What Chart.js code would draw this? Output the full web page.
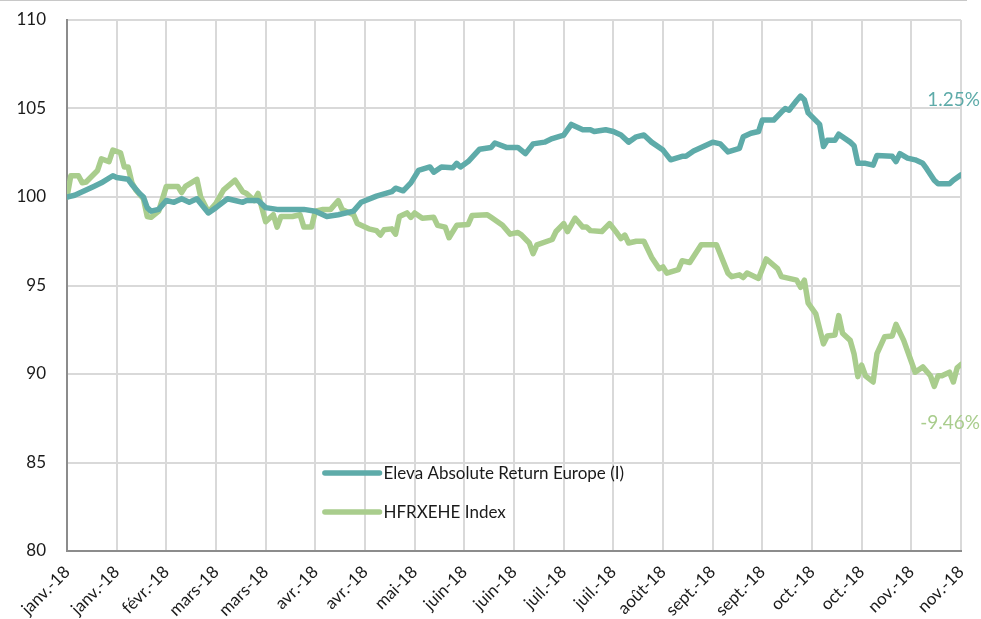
<!DOCTYPE html>
<html>
<head>
<meta charset="utf-8">
<script src="https://cdn.jsdelivr.net/npm/chart.js@4.4.0/dist/chart.umd.min.js"></script>
<style>
  html, body { margin: 0; padding: 0; background: #fff; }
  #wrap { position: relative; width: 981px; height: 619px; }
  #topline { position: absolute; left: 0; top: 0; width: 967px; height: 1px; background: #c8c8c8; }
</style>
</head>
<body>
<div id="wrap">
  <canvas id="c" width="981" height="619"></canvas>
  <div id="topline"></div>
</div>
<script>
// ---- data ----
const tickLabels = ['janv.-18','janv.-18','févr.-18','mars-18','mars-18','avr.-18','avr.-18','mai-18','juin-18','juin-18','juil.-18','juil.-18','août-18','sept.-18','sept.-18','oct.-18','oct.-18','nov.-18','nov.-18'];
const daysPerTick = 13;
const seriesNames = ['Eleva Absolute Return Europe (I)', 'HFRXEHE Index'];
const endLabels = ['1.25%', '-9.46%'];

const elevaDays = [0,2,4,7,9,12,13,16,17,19,20,21,22,24,26,28,30,32,34,37,39,42,44,46,47,50,52,55,58,62,65,68,71,75,77,81,85,86,88,90,92,95,96,98,101,102,103,105,108,111,112,115,118,120,122,125,127,130,132,135,137,138,141,143,145,147,149,151,153,156,158,161,162,164,166,169,171,173,176,177,179,181,182,185,187,188,189,191,192,193,194,197,198,199,201,202,205,206,207,209,211,212,216,217,218,220,222,224,225,227,228,231,232,234];
const elevaValues = [100.0,100.1,100.3,100.6,100.8,101.2,101.1,101.0,100.7,100.2,100.0,99.4,99.2,99.3,99.8,99.7,99.9,99.7,99.9,99.1,99.4,99.9,99.8,99.7,99.8,99.8,99.4,99.3,99.3,99.3,99.2,98.9,99.0,99.2,99.7,100.05,100.3,100.5,100.35,100.8,101.5,101.7,101.4,101.7,101.65,101.9,101.7,102.0,102.7,102.8,103.05,102.8,102.8,102.45,103.0,103.1,103.3,103.5,104.1,103.8,103.8,103.7,103.8,103.7,103.5,103.1,103.4,103.5,103.1,102.65,102.1,102.3,102.3,102.6,102.8,103.1,103.0,102.55,102.75,103.4,103.6,103.7,104.35,104.35,104.8,105.0,104.9,105.45,105.7,105.5,104.75,104.1,102.85,103.2,103.2,103.55,103.1,102.9,101.9,101.9,101.8,102.35,102.3,102.0,102.45,102.2,102.1,101.9,101.6,100.95,100.75,100.75,100.95,101.25];

const hfrxDays = [0,1,3,4,5,8,9,11,12,14,15,16,17,18,20,21,22,24,26,29,30,31,34,35,37,39,41,44,46,47,49,50,52,54,55,56,59,61,62,64,65,67,69,71,72,75,76,79,81,82,83,85,86,87,89,90,91,93,96,97,99,100,102,105,106,110,111,114,116,118,119,121,122,123,127,128,130,131,133,135,136,137,140,142,144,145,146,147,149,151,153,155,156,157,160,161,163,166,170,173,174,176,177,178,181,183,186,187,191,192,193,194,196,198,199,201,202,203,205,206,207,208,209,211,212,214,216,217,219,222,224,226,227,228,229,231,232,233,234];
const hfrxValues = [100.0,101.2,101.2,100.8,100.85,101.5,102.15,102.0,102.65,102.5,101.7,101.7,100.8,100.4,99.9,98.9,98.85,99.2,100.6,100.6,100.25,100.6,101.0,100.0,99.15,99.65,100.4,100.95,100.3,100.2,99.8,100.2,98.6,99.0,98.3,98.9,98.9,99.0,98.3,98.3,99.2,99.3,99.3,99.8,99.3,99.0,98.5,98.2,98.1,97.85,98.15,98.2,97.9,98.9,99.1,98.85,99.1,98.8,98.85,98.4,98.3,97.7,98.4,98.45,98.95,99.0,98.85,98.4,97.9,98.0,97.85,97.4,96.8,97.3,97.6,98.05,98.5,98.05,98.8,98.3,98.3,98.1,98.05,98.5,97.95,97.65,97.85,97.4,97.5,97.5,96.6,95.95,96.05,95.7,95.9,96.4,96.3,97.3,97.3,95.7,95.5,95.6,95.45,95.7,95.4,96.5,95.95,95.5,95.3,94.9,95.3,94.0,93.4,91.7,92.15,92.2,93.3,92.3,91.9,91.15,89.85,90.5,89.9,89.55,91.15,92.1,92.15,92.8,91.9,90.1,90.4,89.9,89.3,89.9,89.9,90.1,89.55,90.35,90.54];

const yMin = 80, yMax = 110, yStep = 5;
const colors = ['#5eaba9', '#a9cd8d'];
const fontFamily = 'Lato, "Open Sans", sans-serif';

const toPts = (xs, ys) => xs.map((d, i) => ({ x: d, y: ys[i] }));

// Custom in-plot legend + end labels
const overlayPlugin = {
  id: 'overlay',
  afterDatasetsDraw(chart) {
    const { ctx, scales: { x, y } } = chart;
    ctx.save();
    const legendRows = [84.4, 82.2];
    const lx0 = x.getPixelForValue(67.5), lx1 = x.getPixelForValue(81.8);
    chart.data.datasets.forEach((ds, i) => {
      const py = y.getPixelForValue(legendRows[i]);
      ctx.strokeStyle = ds.borderColor;
      ctx.lineWidth = 5.5;
      ctx.lineCap = 'round';
      ctx.beginPath(); ctx.moveTo(lx0, py); ctx.lineTo(lx1, py); ctx.stroke();
      ctx.fillStyle = '#1a1a1a';
      ctx.font = '17px ' + fontFamily;
      ctx.textBaseline = 'middle';
      ctx.textAlign = 'left';
      ctx.fillText(ds.label, lx1 + 4, py);
    });
    const offsets = [-75, 58];
    chart.data.datasets.forEach((ds, i) => {
      const last = ds.data[ds.data.length - 1];
      const py = y.getPixelForValue(last.y) + offsets[i];
      ctx.fillStyle = ds.borderColor;
      ctx.font = '19px ' + fontFamily;
      ctx.textAlign = 'right';
      ctx.textBaseline = 'middle';
      ctx.fillText(endLabels[i], chart.width - 1, py);
    });
    ctx.restore();
  }
};

new Chart(document.getElementById('c'), {
  type: 'line',
  data: {
    datasets: [
      { label: seriesNames[0], data: toPts(elevaDays, elevaValues), borderColor: colors[0], backgroundColor: colors[0], borderWidth: 5.5, pointRadius: 0, tension: 0, borderJoinStyle: 'round', borderCapStyle: 'round' },
      { label: seriesNames[1], data: toPts(hfrxDays, hfrxValues), borderColor: colors[1], backgroundColor: colors[1], borderWidth: 5.5, pointRadius: 0, tension: 0, borderJoinStyle: 'round', borderCapStyle: 'round' }
    ]
  },
  options: {
    responsive: false,
    animation: false,
    layout: { padding: { top: 20, right: 20, left: 0, bottom: 0 } },
    plugins: { legend: { display: false }, tooltip: { enabled: false } },
    scales: {
      x: {
        type: 'linear',
        min: 0,
        max: daysPerTick * (tickLabels.length - 1),
        afterBuildTicks(scale) {
          scale.ticks = tickLabels.map((_, i) => ({ value: i * daysPerTick }));
        },
        afterFit(scale) { scale.height = 68; scale.paddingRight = 0; scale.paddingLeft = 0; },
        ticks: {
          autoSkip: false,
          maxRotation: 45,
          minRotation: 45,
          padding: 11,
          color: '#1a1a1a',
          font: { family: fontFamily, size: 17 },
          callback: (v) => tickLabels[Math.round(v / daysPerTick)]
        },
        grid: { color: '#d9d9d9', lineWidth: 2, drawTicks: false },
        border: { color: '#8c8c8c', width: 2 }
      },
      y: {
        min: yMin,
        max: yMax,
        afterFit(scale) { scale.width = 67; scale.paddingTop = 10; scale.paddingBottom = 10; },
        ticks: {
          stepSize: yStep,
          padding: 21,
          color: '#1a1a1a',
          font: { family: fontFamily, size: 17 }
        },
        grid: { color: '#d9d9d9', lineWidth: 2, drawTicks: false },
        border: { color: '#8c8c8c', width: 2 }
      }
    }
  },
  plugins: [overlayPlugin]
});
</script>
</body>
</html>
